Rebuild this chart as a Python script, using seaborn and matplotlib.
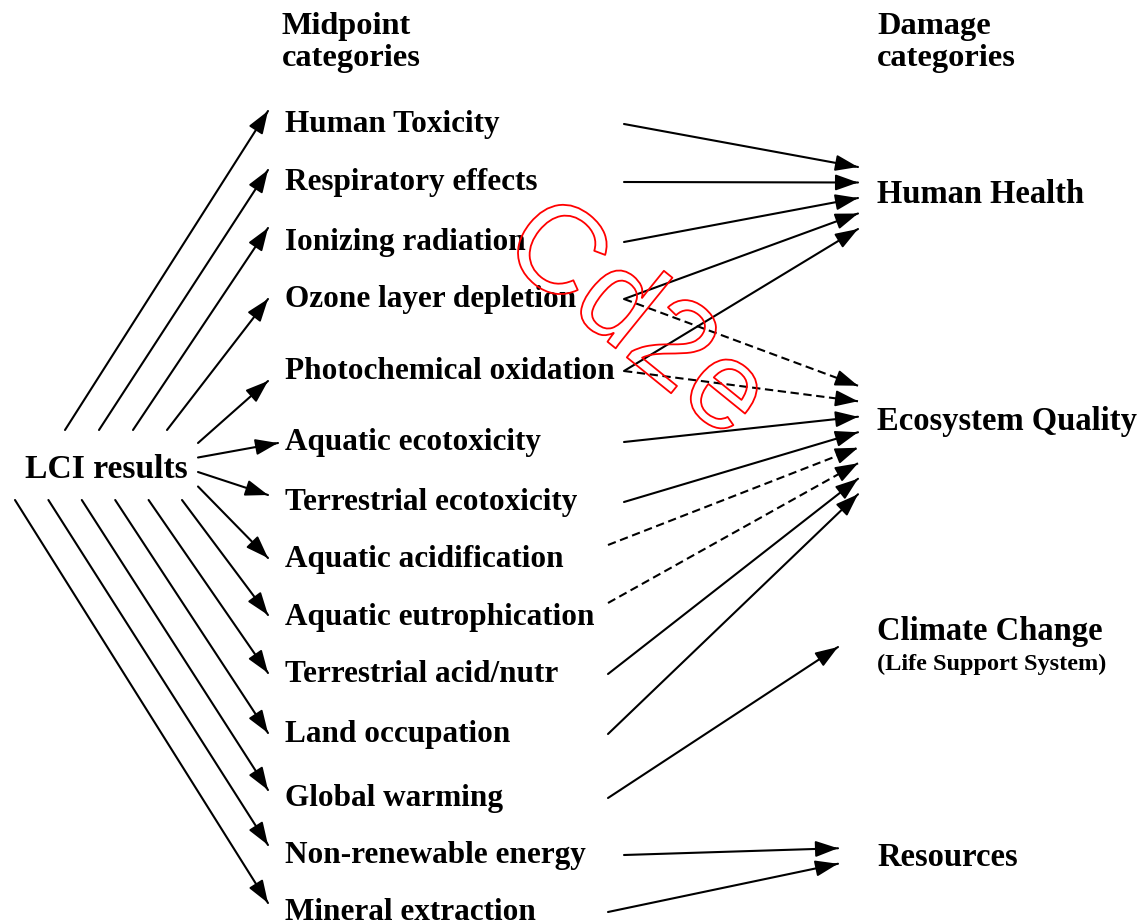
import numpy as np
import pandas as pd
import matplotlib
matplotlib.use("Agg")
import matplotlib.pyplot as plt
import matplotlib.patheffects as pe
import seaborn as sns

# ---------------- data ----------------
source_label = "LCI results"
header_mid = ["Midpoint", "categories"]
header_dmg = ["Damage", "categories"]

midpoints = ["Human Toxicity", "Respiratory effects", "Ionizing radiation",
             "Ozone layer depletion", "Photochemical oxidation",
             "Aquatic ecotoxicity", "Terrestrial ecotoxicity",
             "Aquatic acidification", "Aquatic eutrophication",
             "Terrestrial acid/nutr", "Land occupation", "Global warming",
             "Non-renewable energy", "Mineral extraction"]

damages = ["Human Health", "Ecosystem Quality", "Climate Change", "Resources"]
damage_sub = ["", "", "(Life Support System)", ""]

link_from = ["Human Toxicity", "Respiratory effects", "Ionizing radiation",
             "Ozone layer depletion", "Photochemical oxidation",
             "Ozone layer depletion", "Photochemical oxidation",
             "Aquatic ecotoxicity", "Terrestrial ecotoxicity",
             "Aquatic acidification", "Aquatic eutrophication",
             "Terrestrial acid/nutr", "Land occupation",
             "Global warming", "Non-renewable energy", "Mineral extraction"]
link_to = ["Human Health"] * 5 + ["Ecosystem Quality"] * 8 + \
          ["Climate Change", "Resources", "Resources"]
link_style = ["solid"] * 5 + ["dashed", "dashed", "solid", "solid",
                              "dashed", "dashed", "solid", "solid"] + \
             ["solid", "solid", "solid"]

watermark = "Cd2e"

# ---------------- layout ----------------
W, H = 1142, 924
mid_y = [122, 180, 240, 297, 369, 440, 500, 557, 615, 672, 732, 796, 853, 910]
left_tip_dy = [-11, -10, -12, 2, 12, 3, -5, 1, 0, 1, 1, -6, -8, -7]
dmg_y = [193, 420, 630, 856]
dmg_tip_center = [198, 440, 647, 856]
dmg_tip_x = [858, 858, 838, 838]
mid_x = 285
dmg_x = 877

sns.set_theme(style="white")
plt.rcParams["font.family"] = ["Liberation Serif", "DejaVu Serif"]
plt.rcParams["text.color"] = "black"

fig = plt.figure(figsize=(W / 100, H / 100), dpi=100)
ax = fig.add_axes([0, 0, 1, 1])

def left_start(i):
    if i <= 3:
        return 65 + 34 * i, 430
    if i <= 7:
        return 198, 443 + 14.5 * (i - 4)
    return 182 - 33.4 * (i - 8), 500

rows = []
heads = []
# left fan: LCI -> midpoints
for i, m in enumerate(midpoints):
    x0, y0 = left_start(i)
    x1, y1 = (278 if i == 5 else 268), mid_y[i] + left_tip_dy[i]
    rows += [dict(link=f"L{i}", x=x0, y=y0, kind="solid"),
             dict(link=f"L{i}", x=x1, y=y1, kind="solid")]
    heads.append((x0, y0, x1, y1))

# right side: midpoints -> damages
counts = {d: link_to.count(d) for d in damages}
seen = {d: 0 for d in damages}
for k, (a, b, s) in enumerate(zip(link_from, link_to, link_style)):
    i = midpoints.index(a)
    j = damages.index(b)
    x0 = 608 if i in (7, 8, 9, 10, 11, 13) else 624
    y0 = mid_y[i] + (-12 if i in (7, 8) else 2)
    n = counts[b]
    y1 = dmg_tip_center[j] + (seen[b] - (n - 1) / 2) * 15.5
    seen[b] += 1
    x1 = dmg_tip_x[j]
    rows += [dict(link=f"R{k}", x=x0, y=y0, kind=s),
             dict(link=f"R{k}", x=x1, y=y1, kind=s)]
    heads.append((x0, y0, x1, y1))

df = pd.DataFrame(rows)
sns.lineplot(data=df, x="x", y="y", units="link", estimator=None, sort=False,
             style="kind", dashes={"solid": "", "dashed": (4, 2.2)},
             color="black", linewidth=1.5, legend=False, ax=ax)
ax.set_xlim(0, W)
ax.set_ylim(H, 0)
ax.axis("off")

for x0, y0, x1, y1 in heads:
    L = np.hypot(x1 - x0, y1 - y0)
    xs = x1 - (x1 - x0) / L * 20
    ys = y1 - (y1 - y0) / L * 20
    ax.annotate("", xy=(x1, y1), xytext=(xs, ys),
                arrowprops=dict(arrowstyle="-|>,head_length=0.7,head_width=0.25",
                                color="black", lw=1.3, shrinkA=0, shrinkB=0,
                                mutation_scale=20))

# texts
for i, m in enumerate(midpoints):
    ax.text(mid_x, mid_y[i] + 10, m, fontsize=22.5, fontweight="bold",
            color="black", ha="left", va="baseline")

for j, d in enumerate(damages):
    ax.text(dmg_x, dmg_y[j] + 10, d, fontsize=23.5, fontweight="bold",
            color="black", ha="left", va="baseline")
    if damage_sub[j]:
        ax.text(dmg_x, dmg_y[j] + 40, damage_sub[j], fontsize=17.5,
                fontweight="bold", color="black", ha="left", va="baseline")

for k, t in enumerate(header_mid):
    ax.text(282, 34 + 32 * k, t, fontsize=23.3, fontweight="bold",
            color="black", va="baseline")
for k, t in enumerate(header_dmg):
    ax.text(877, 34 + 32 * k, t, fontsize=23.3, fontweight="bold",
            color="black", va="baseline")

ax.text(25, 478, source_label, fontsize=24.2, fontweight="bold",
        color="black", ha="left", va="baseline")

ax.text(634, 322, watermark, fontsize=90, family="Liberation Sans", color="none",
        rotation=-39, ha="center", va="center", rotation_mode="anchor",
        path_effects=[pe.Stroke(linewidth=1.3, foreground="red")], zorder=5)

fig.savefig("out.png", dpi=100)
